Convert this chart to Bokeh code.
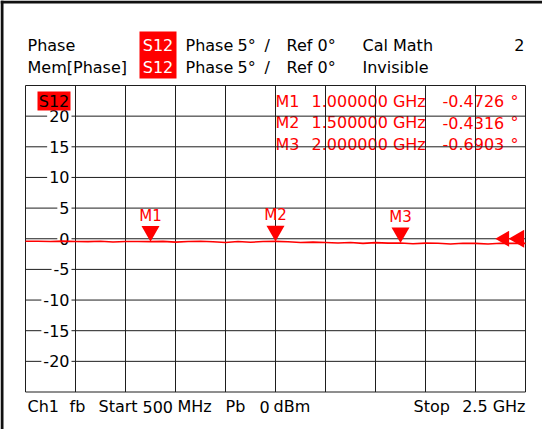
import numpy as np
from bokeh.plotting import figure
from bokeh.models import Range1d
from bokeh.core.properties import value
from bokeh.embed import file_html
from bokeh.resources import INLINE

# ---------------- data ----------------
freq_ghz = [0.50, 0.55, 0.60, 0.65, 0.70, 0.75, 0.80, 0.85, 0.90, 0.95,
            1.00, 1.05, 1.10, 1.15, 1.20, 1.25, 1.30, 1.35, 1.40, 1.45,
            1.50, 1.55, 1.60, 1.65, 1.70, 1.75, 1.80, 1.85, 1.90, 1.95,
            2.00, 2.05, 2.10, 2.15, 2.20, 2.25, 2.30, 2.35, 2.40, 2.45, 2.50]
phase_deg = [-0.42, -0.40, -0.45, -0.38, -0.44, -0.47, -0.41, -0.52, -0.44, -0.46,
             -0.47, -0.43, -0.55, -0.45, -0.40, -0.48, -0.60, -0.45, -0.58, -0.44,
             -0.43, -0.50, -0.62, -0.55, -0.60, -0.70, -0.62, -0.75, -0.63, -0.72,
             -0.69, -0.82, -0.72, -0.74, -0.85, -0.73, -0.75, -0.86, -0.74, -0.76, -0.75]

marker_names = ["M1", "M2", "M3"]
marker_freq_ghz = [1.0, 1.5, 2.0]
marker_phase_deg = [-0.4726, -0.4316, -0.6903]
marker_freq_text = ["1.000000 GHz", "1.500000 GHz", "2.000000 GHz"]
marker_phase_text = ["-0.4726", "-0.4316", "-0.6903"]

y_ticks = [20, 15, 10, 5, 0, -5, -10, -15, -20]
y_tick_labels = ["20", "15", "10", "5", "0", "-5", "-10", "-15", "-20"]

F_START, F_STOP = 0.5, 2.5
Y_TOP, Y_BOTTOM = 25, -25
REF_LEVEL = 0
N_DIV = 10

# ---------------- layout (page pixels) ----------------
FONT = "DejaVu Sans"
RED = "#ff0000"
GRID = "#1e1e1e"
W, H = 542, 429
M = 8
GX0, GX1 = 33, 533
GY0, GY1 = 93, 399.5

kx = (GX1 - GX0) / (F_STOP - F_START)
ky = (GY1 - GY0) / (Y_TOP - Y_BOTTOM)
x_start = F_START - (GX0 - M) / kx
x_end = x_start + W / kx
y_end = Y_TOP + (GY0 - M) / ky
y_start = y_end - H / ky


def dx(px):
    return x_start + (px - M) / kx


def dy(py):
    return y_end - (py - M) / ky


p = figure(width=W, height=H, x_range=Range1d(x_start, x_end),
           y_range=Range1d(y_start, y_end), x_axis_type=None, y_axis_type=None,
           toolbar_location=None, output_backend="svg", min_border=0)
p.outline_line_color = None
p.background_fill_color = "white"
p.border_fill_color = "white"


def put(txt, px, py, color="black", align="left", size="16px"):
    p.text(x=[dx(px)], y=[dy(py)], text=[txt], text_color=color,
           text_align=align, text_baseline="middle",
           text_font=value(FONT), text_font_size=size)


# outer frame (left and top thick black edges)
p.quad(left=[dx(8)], right=[dx(11)], top=[dy(8)], bottom=[dy(437)],
       color="#111111", line_width=0)
p.quad(left=[dx(8)], right=[dx(550)], top=[dy(8)], bottom=[dy(11)],
       color="#111111", line_width=0)

# header
p.quad(left=[dx(147)], right=[dx(184)], top=[dy(39)], bottom=[dy(86)],
       color=RED, line_width=0)
row1, row2 = 52.5, 74.5
put("Phase", 35, row1)
put("Mem[Phase]", 35, row2)
put("S12", 165.5, row1, color="white", align="center")
put("S12", 165.5, row2, color="white", align="center")
for r in (row1, row2):
    put("Phase", 193, r)
    put("5°", 245, r)
    put("/", 272, r)
    put("Ref 0°", 294, r)
put("Cal Math", 370, row1)
put("Invisible", 370, row2)
put("2", 532, row1, align="right")

# marker table (under the grid)
table_rows = [108.5, 130, 151.5]
for name, ft, pt, r in zip(marker_names, marker_freq_text, marker_phase_text, table_rows):
    put(name, 283, r, color=RED)
    put(ft, 319, r, color=RED)
    put(pt, 450, r, color=RED)
    put("°", 518, r, color=RED)

# grid
vx = list(np.linspace(F_START, F_STOP, N_DIV + 1))
p.segment(x0=vx, x1=vx, y0=[Y_BOTTOM] * len(vx), y1=[Y_TOP] * len(vx),
          line_color=GRID, line_width=1)
hy = list(np.linspace(Y_BOTTOM, Y_TOP, N_DIV + 1))
p.segment(x0=[F_START] * len(hy), x1=[F_STOP] * len(hy), y0=hy, y1=hy,
          line_color=GRID, line_width=1)

# y tick labels inside first column
p.text(x=[F_START] * len(y_ticks), y=y_ticks, text=y_tick_labels,
       x_offset=46, text_align="right", text_baseline="middle",
       text_font=value(FONT), text_font_size="16px", text_color="black",
       background_fill_color="white", padding=2)

# S12 trace tag
p.quad(left=[dx(45)], right=[dx(78)], top=[dy(99)], bottom=[dy(118)],
       color=RED, line_width=0)
put("S12", 61.5, 109, color="black", align="center")

# trace
p.line(freq_ghz, phase_deg, line_color=RED, line_width=1.6)

# markers
tri_size = 18
tri_off = (tri_size / 2 * np.sqrt(3)) * 2 / 3 / ky
p.scatter(x=marker_freq_ghz, y=[v + tri_off for v in marker_phase_deg],
          marker="inverted_triangle", size=tri_size, color=RED, line_width=0)
p.text(x=marker_freq_ghz, y=[v + 26 / ky for v in marker_phase_deg], text=marker_names,
       text_align="center", text_baseline="middle", text_color=RED,
       text_font=value(FONT), text_font_size="15px")

# reference level arrows at right edge
arrow_x = [F_STOP - 6.5 / kx, F_STOP - 21 / kx]
p.scatter(x=arrow_x, y=[REF_LEVEL, REF_LEVEL], marker="triangle",
          angle=np.pi / 2, size=[18, 16], color=RED, line_width=0)

# footer
fy = 414
put("Ch1", 35, fy)
put("fb", 77, fy)
put("Start", 106, fy)
put("500", 150, fy)
put("MHz", 185, fy)
put("Pb", 233, fy)
put("0", 267, fy)
put("dBm", 281, fy)
put("Stop", 421, fy)
put("2.5 GHz", 533, fy, align="right")

open("out.html", "w").write(file_html(p, INLINE))
